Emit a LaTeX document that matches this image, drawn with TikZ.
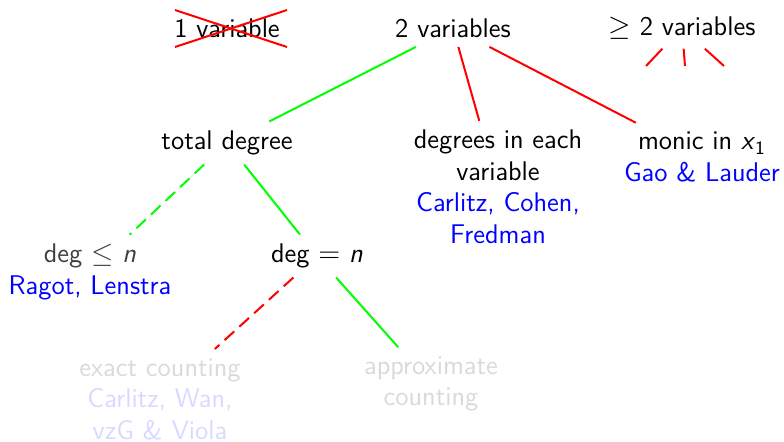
\documentclass[tikz,border=0pt]{standalone}
\usepackage{fontspec}
\begin{document}
\begin{tikzpicture}[x=0.5pt,y=-0.5pt]
\tikzset{
 tnode/.style={font=\fontsize{13.5}{15.75}\selectfont\sffamily, align=center, inner sep=4.5pt},
 gedge/.style={green, line width=1pt},
 redge/.style={red, line width=1pt},
 dashedge/.style={dash pattern=on 6.5pt off 3.5pt}
}
\useasboundingbox (0,0) rectangle (784,441);
\node[tnode] (v1) at (227,28) {1 variable};
\node[tnode] (v2) at (453,28) {2 variables};
\node[tnode] (vg) at (682,28) {$\geq$ 2 variables};
\node[tnode] (td) at (227,143) {total degree};
\node[tnode] (de) at (498,187) {degrees in each\\variable\\\textcolor{blue}{Carlitz, Cohen,}\\\textcolor{blue}{Fredman}};
\node[tnode] (mo) at (702,157) {monic in \textit{x}\textsubscript{1}\\\textcolor{blue}{Gao \& Lauder}};
\node[tnode] (dl) at (90,272) {\textcolor{black!75}{deg $\leq$ \textit{n}}\\\textcolor{blue}{Ragot, Lenstra}};
\node[tnode] (dq) at (317,256) {deg $=$ \textit{n}};
\node[tnode] (ex) at (160,399) {\textcolor{black!15}{exact counting}\\\textcolor{blue!15}{Carlitz, Wan,}\\\textcolor{blue!15}{vzG \& Viola}};
\node[tnode, text=black!15] (ap) at (431,384) {approximate\\counting};
\coordinate (g1) at (646,66);
\coordinate (g2) at (685,66);
\coordinate (g3) at (724,66);
% cross over 1 variable
\draw[redge] (175,10) -- (287,47);
\draw[redge] (175,47) -- (287,10);
% edges
\draw[gedge] (v2) -- (td);
\draw[redge] (v2) -- (de);
\draw[redge] (v2) -- (mo);
\draw[redge] (vg) -- (g1);
\draw[redge] (vg) -- (g2);
\draw[redge] (vg) -- (g3);
\draw[gedge, dashedge] (td) -- (dl);
\draw[gedge] (td) -- (dq);
\draw[redge, dashedge] (dq) -- (ex);
\draw[gedge] (dq) -- (ap);
\end{tikzpicture}
\end{document}
